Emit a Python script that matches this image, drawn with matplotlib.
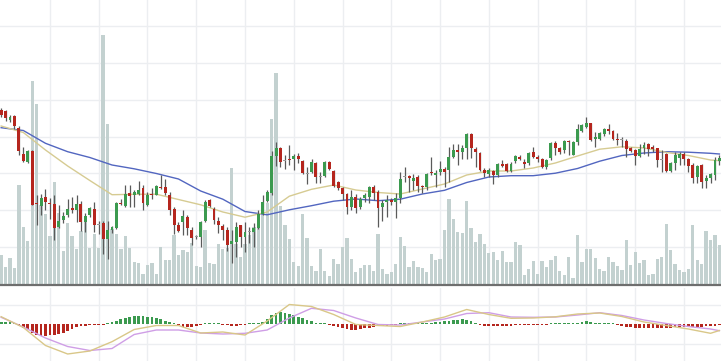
import numpy as np
import matplotlib
matplotlib.use('Agg')
import matplotlib.pyplot as plt

# candle data (price units, 163 sessions)
opens = [175, 174, 165, 169, 157.5, 131, 123.5, 134, 82.5, 79.5, 88, 82, 81.5, 58.5, 65, 70, 77, 75, 81.5, 63,
         70.5, 76, 60, 62, 46, 55, 57.5, 82.5, 79.5, 92, 90, 91.5, 97, 80.5, 91.5, 90.5, 98.5, 98, 90, 76.5,
         60, 63, 68, 55, 48, 48, 64, 85.5, 76.5, 64, 59, 55, 41, 43.3, 60, 48.3, 53, 52.7, 56.7, 70.7,
         84, 91.7, 129.3, 137.3, 124, 126.5, 126, 129, 124, 111.5, 113.3, 122.3, 108.3, 109, 123.3, 114, 102.7, 96.7, 90.7, 78.3,
         88.3, 78.3, 86.7, 88.3, 97.7, 93.3, 78.3, 82.7, 85, 83.3, 87.3, 107.8, 109, 104, 108.3, 99.3, 98.3, 112.7, 110, 112.7,
         116, 115, 128.3, 135, 133.3, 137.3, 151, 136, 131.7, 115, 111, 114, 110, 120.7, 120.7, 114, 124.3, 128.3, 122.7, 121.7,
         132.7, 128.3, 125.7, 118.3, 126.7, 141.7, 136.7, 135, 144, 130, 143.3, 154, 157.7, 161.7, 146, 146, 150.7, 156, 154, 146,
         145, 144, 136.7, 135, 129.3, 137.3, 140.7, 138.3, 136.7, 125, 130.7, 114, 121.7, 126.7, 130.7, 125.7, 120, 108.3, 120, 104,
         106.7, 110, 124]
closes = [170, 167, 168.3, 159.5, 134.5, 124.5, 134, 80.5, 81, 87.5, 83, 81, 57.5, 64, 69.5, 76.5, 75, 81.5, 63, 69,
          77, 60, 60.5, 46, 55, 58, 82, 81, 91.5, 89, 93, 95.5, 82.5, 90.5, 90, 99, 97.5, 92.5, 75.5, 60.5,
          54, 69, 57, 47, 48.5, 63, 83, 79, 65, 60, 55, 40, 44, 58.3, 48.3, 52.7, 53.5, 57.3, 70.7, 83.3,
          93.3, 129.3, 137.3, 122.7, 124.5, 125.5, 129, 126, 111.7, 112, 123.3, 108.3, 108.5, 123.3, 115.7, 99.3, 96.7, 90.7, 78.3, 88.3,
          76.7, 86, 90, 97.7, 91.7, 76.7, 81.7, 85, 82.7, 86.7, 106, 108.3, 107.3, 107.3, 99.3, 97.7, 111, 111.7, 112.3, 116,
          113.3, 128.3, 135, 133.3, 136.7, 151, 136.7, 132.7, 115, 111.7, 115, 110, 120.7, 119.3, 114, 120.7, 129, 126, 120.7, 131.7,
          127.7, 126, 118.3, 125, 142.3, 137.3, 132.7, 144.3, 142.7, 142.7, 156, 160, 161.7, 145, 148.3, 151.7, 156, 154.3, 146, 145,
          145.3, 136, 134, 129.3, 136, 140, 136, 135.7, 125, 125.3, 114, 121.7, 130, 130.7, 126, 119.3, 107.3, 119, 103.3, 107.3,
          110.7, 125, 127]
highs = [177, 175, 170, 170, 159, 138, 135, 135, 90, 91, 96.5, 87.5, 90, 80, 73, 86, 88, 90, 84, 72.5,
         78, 83, 64, 64, 64, 59, 83, 86, 100.5, 100, 95, 104, 100, 93, 97, 100.5, 110, 106, 93, 78,
         63, 75, 70, 58, 50, 64, 85, 86.5, 78, 68, 61, 58, 55, 63, 60.5, 63, 58, 62.3, 75, 90,
         95, 134, 142.7, 138.3, 130, 140, 131, 131.7, 125, 118.3, 126, 123.3, 113.3, 124, 124, 115, 104, 98.3, 92.3, 95,
         90.7, 88, 91.7, 99.3, 100, 95, 85, 90, 86.7, 91.7, 113.3, 118.3, 110, 110.7, 110, 100, 111.7, 128.3, 115, 124,
         118.3, 138.3, 141, 140.7, 140, 151.7, 151.7, 138.3, 132.7, 117.3, 116.7, 115, 121.7, 125, 121.7, 123.3, 130, 130, 126, 132.7,
         138.3, 130, 127, 126, 143.3, 144, 138.3, 145, 145, 144, 160.7, 160.7, 168.3, 162.3, 152.7, 153.3, 157.3, 160.7, 155, 151.7,
         148.3, 146, 138.3, 136, 140.7, 143.3, 141.7, 140, 137.3, 135, 131.7, 123.3, 132.7, 132.7, 132.7, 127.3, 121.7, 120, 120.7, 110,
         111.7, 128.3, 130]
lows = [168, 164, 163.3, 156, 130, 123, 122.5, 80, 60, 70, 75, 66.5, 45, 57, 62.5, 68, 72.5, 62.7, 54, 53,
        68, 53, 51, 31.5, 26.5, 52, 56.5, 80, 78.5, 78.3, 78, 90, 75, 79, 86, 90, 96.5, 90, 70.5, 51.5,
        53, 50, 50, 40, 46, 38, 63, 78, 61.5, 52.5, 45, 34, 21.7, 28.3, 38.3, 33.3, 41.7, 38.3, 56, 70,
        83.3, 90, 119.3, 118.3, 116, 120, 115.5, 121.7, 110.7, 100.7, 111.7, 101.7, 101.7, 108.3, 115, 98.3, 95, 85, 70.7, 75,
        71.7, 76, 83, 81.7, 85, 58.3, 64.3, 68.3, 80, 66.7, 81.7, 102.7, 93.3, 95, 93.3, 91.7, 95, 110, 97.7, 110,
        97.7, 102.7, 126.7, 120, 125.7, 125.7, 126.7, 118.3, 114, 108.3, 108.3, 100.7, 108.3, 118.3, 112.7, 112.7, 121.7, 125, 117.3, 120.3,
        126.7, 123.3, 117.3, 116, 125, 130, 130.7, 131.7, 130, 130, 140, 152.7, 156.7, 144, 138.3, 145, 149.3, 150.7, 145, 140,
        138.3, 128.3, 133, 120, 127.7, 131, 129, 133, 118.3, 113.3, 113.3, 112.7, 115, 120, 120, 113.3, 101.7, 101.7, 96.7, 97,
        101.7, 105, 120]
volume = [30, 18.5, 27, 17, 100.5, 58.5, 44.5, 204, 181, 80, 71, 49.5, 103, 72, 34, 62, 49.5, 36, 54.5, 63.5,
          37, 51.5, 37, 250.5, 161, 56, 51.5, 36, 49.5, 37, 23.5, 22.5, 11, 20.5, 22.5, 11, 38.5, 25.5, 25, 50,
          30, 35.5, 33.5, 42, 19.5, 18.5, 55, 22, 21, 41, 36, 37.5, 117, 41, 28, 41, 50, 58, 66, 76,
          82, 166, 212, 79.5, 60, 46, 23, 19.5, 71, 47, 19.5, 14.5, 36, 14.5, 9.5, 26, 21, 38, 47, 26,
          13, 17, 20.5, 20.5, 14.5, 51.5, 16.5, 11, 13.5, 21, 48.5, 39.5, 18.5, 24, 18.5, 17, 13.5, 31, 25.5, 26,
          55.5, 86, 66.5, 53.5, 52, 84.5, 57.5, 43.5, 51, 41, 32, 33.5, 25, 34.5, 23, 23, 43, 40.5, 10.5, 16,
          24, 11, 24.5, 18.5, 25.5, 29.5, 14.5, 10.5, 28.5, 7, 50.5, 23.5, 36, 36, 27.5, 16, 14.5, 28.5, 23, 19.5,
          15, 45.5, 20.5, 33, 22.5, 25, 10.5, 11, 26, 28.5, 61, 35.5, 21, 15.5, 13, 16.5, 60, 25.5, 21.5, 54.5,
          45.5, 50.5, 40]

# moving averages, read every 5 sessions
ma_idx = [0, 5, 10, 15, 20, 25, 30, 35, 40, 45, 50, 55, 60, 65, 70, 75, 80, 85, 90, 95, 100,
          105, 110, 115, 120, 125, 130, 135, 140, 145, 150, 155, 160, 162]
ma_slow = [157.3, 154.5, 141.7, 133.3, 127.5, 120, 116.2, 111.5, 106, 94, 85.8, 73.5, 70.2, 75.2, 79.3, 83.8, 86,
           84.3, 85.8, 91, 94.7, 102.5, 108, 109.3, 109.3, 111.8, 116.5, 123.8, 129.5, 132, 133.3, 132.8, 131.7, 131]
ma_fast = [159, 152.5, 135, 119, 104.5, 90.3, 90.7, 90.8, 85.5, 80.2, 73, 67.8, 73, 88.8, 95.7, 100, 95,
           92.5, 91, 96, 101, 110, 114, 114, 117, 122, 129, 135.8, 138.2, 137.1, 132.6, 129.5, 125, 124.3]

# MACD panel
dif = [7.3, -3.5, -21.5, -30, -27, -17.7, -5.5, -1.5, -1.5, -9, -8, -11, 3, 19.5, 17.5, 9.5, -0.5,
       -1.5, -2.5, 2, 7, 14.5, 9.5, 5.7, 6, 7.2, 10, 11, 7.5, 2, -1.5, -5, -9.3, -6.5]
dea = [6.7, -3, -14, -22.5, -26.5, -24.5, -10.5, -6, -6, -9, -10, -9.3, -6, 6, 15.7, 13.5, 6,
       -0.5, -1, 2, 5, 10.5, 11.3, 7, 6.7, 7, 9, 11.3, 8.5, 4, 0.5, -2.5, -5, -6.7]
hist = [2, 2.3, 2, 0.5, -2, -4, -5, -9, -11, -11.5, -11.5, -11, -11, -10, -9, -7, -5, -3, -2, -1.5,
        -0.5, -0.3, -0.3, -0.8, 0.5, 2, 3.5, 5, 6, 7, 8, 8.5, 8, 7.5, 7, 6, 5, 3.5, 2, 0.5,
        -0.8, -2.5, -3, -2.5, -2, -1, 0.3, 0.5, 0.5, 0.3, -0.3, -1, -1.5, -1.5, -1, -0.3, 0.3, 0.5, 1, 2.5,
        5, 9, 11, 12, 11.5, 10.5, 9, 7.5, 6, 4, 3, 1, 0.3, 0.3, -0.3, -1.5, -3, -4, -5, -6,
        -6, -5, -4, -3.5, -2.5, -2, -2, -1.5, -1, -0.3, 0.8, 1, 1, 1, 1, 1, 1, 1.5, 2, 2.5,
        3, 3.5, 4, 4.5, 5, 4.5, 3, 1, -1, -2, -2, -2.3, -2, -2, -1.8, -1.5, -1, -0.7, -0.5, -0.3,
        -0.3, -0.5, -0.5, -0.3, 0.3, 0.5, 0.5, 0.8, 1, 1.2, 1.5, 2.5, 3, 2.5, 1, 0.5, 0.3, 0.3, 0.3, -0.8,
        -1.5, -2.5, -3, -3.5, -3.5, -3.5, -3.5, -3.5, -3.5, -3.8, -4, -3.5, -3, -3, -2.8, -2.5, -2.5, -2.5, -2.5, -2.3,
        -2, -1.5, -1]

up_col = '#3b9a4f'
down_col = '#b5261e'
flat_col = '#9a9a9a'
grid_col = '#eceef1'

n = len(opens)
x = np.arange(n)
o = np.array(opens)
c = np.array(closes)

fig = plt.figure(figsize=(7.21, 3.61), dpi=100)
ax = fig.add_axes([0, 1 - 284.5 / 361, 1, 284.5 / 361])
ax2 = fig.add_axes([0, 0, 1, 73 / 361])

for a in (ax, ax2):
    a.set_xlim(-0.26, 162.36)
    a.set_xticks(np.arange(11, n, 11))
    a.grid(True, color=grid_col, linewidth=1.0, zorder=0)
    a.set_axisbelow(True)
    a.tick_params(left=False, bottom=False, labelleft=False, labelbottom=False)
    for s in a.spines.values():
        s.set_visible(False)

# main panel: volume behind, MAs, candles on top
ax.set_ylim(0.5, 285)
ax.set_yticks(38 + 36.8 * np.arange(7))
ax.spines['bottom'].set_visible(True)
ax.spines['bottom'].set_color('#6e6e6e')
ax.spines['bottom'].set_linewidth(1.6)

ax.bar(x, volume, width=0.74, color='#c3d1d0', zorder=1)

ax.plot(ma_idx, ma_slow, color='#5266c0', lw=1.0, zorder=2)
ax.plot(ma_idx, ma_fast, color='#d6cb92', lw=1.0, zorder=2)

cols = []
for oo, cc in zip(o, c):
    if abs(cc - oo) < 0.6:
        cols.append(flat_col)
    elif cc > oo:
        cols.append(up_col)
    else:
        cols.append(down_col)

ax.vlines(x, lows, highs, color='#5a5a5a', lw=0.9, zorder=3)
body_h = np.maximum(np.abs(c - o), 0.9)
ax.bar(x, body_h, bottom=np.minimum(o, c), width=0.66, color=cols, zorder=4)

# macd panel
ax2.set_ylim(-37, 36)
ax2.set_yticks([-19.5, 19.5])
h = np.array(hist)
hcols = [up_col if v > 0 else down_col for v in h]
hh = np.where(np.abs(h) < 0.7, np.sign(h) * 0.7, h)
ax2.bar(x, hh, width=0.62, color=hcols, zorder=2)
ax2.plot(ma_idx, dea, color='#cf9ee6', lw=1.0, zorder=3)
ax2.plot(ma_idx, dif, color='#d9c788', lw=1.0, zorder=3)

fig.savefig('out.png', dpi=100)
